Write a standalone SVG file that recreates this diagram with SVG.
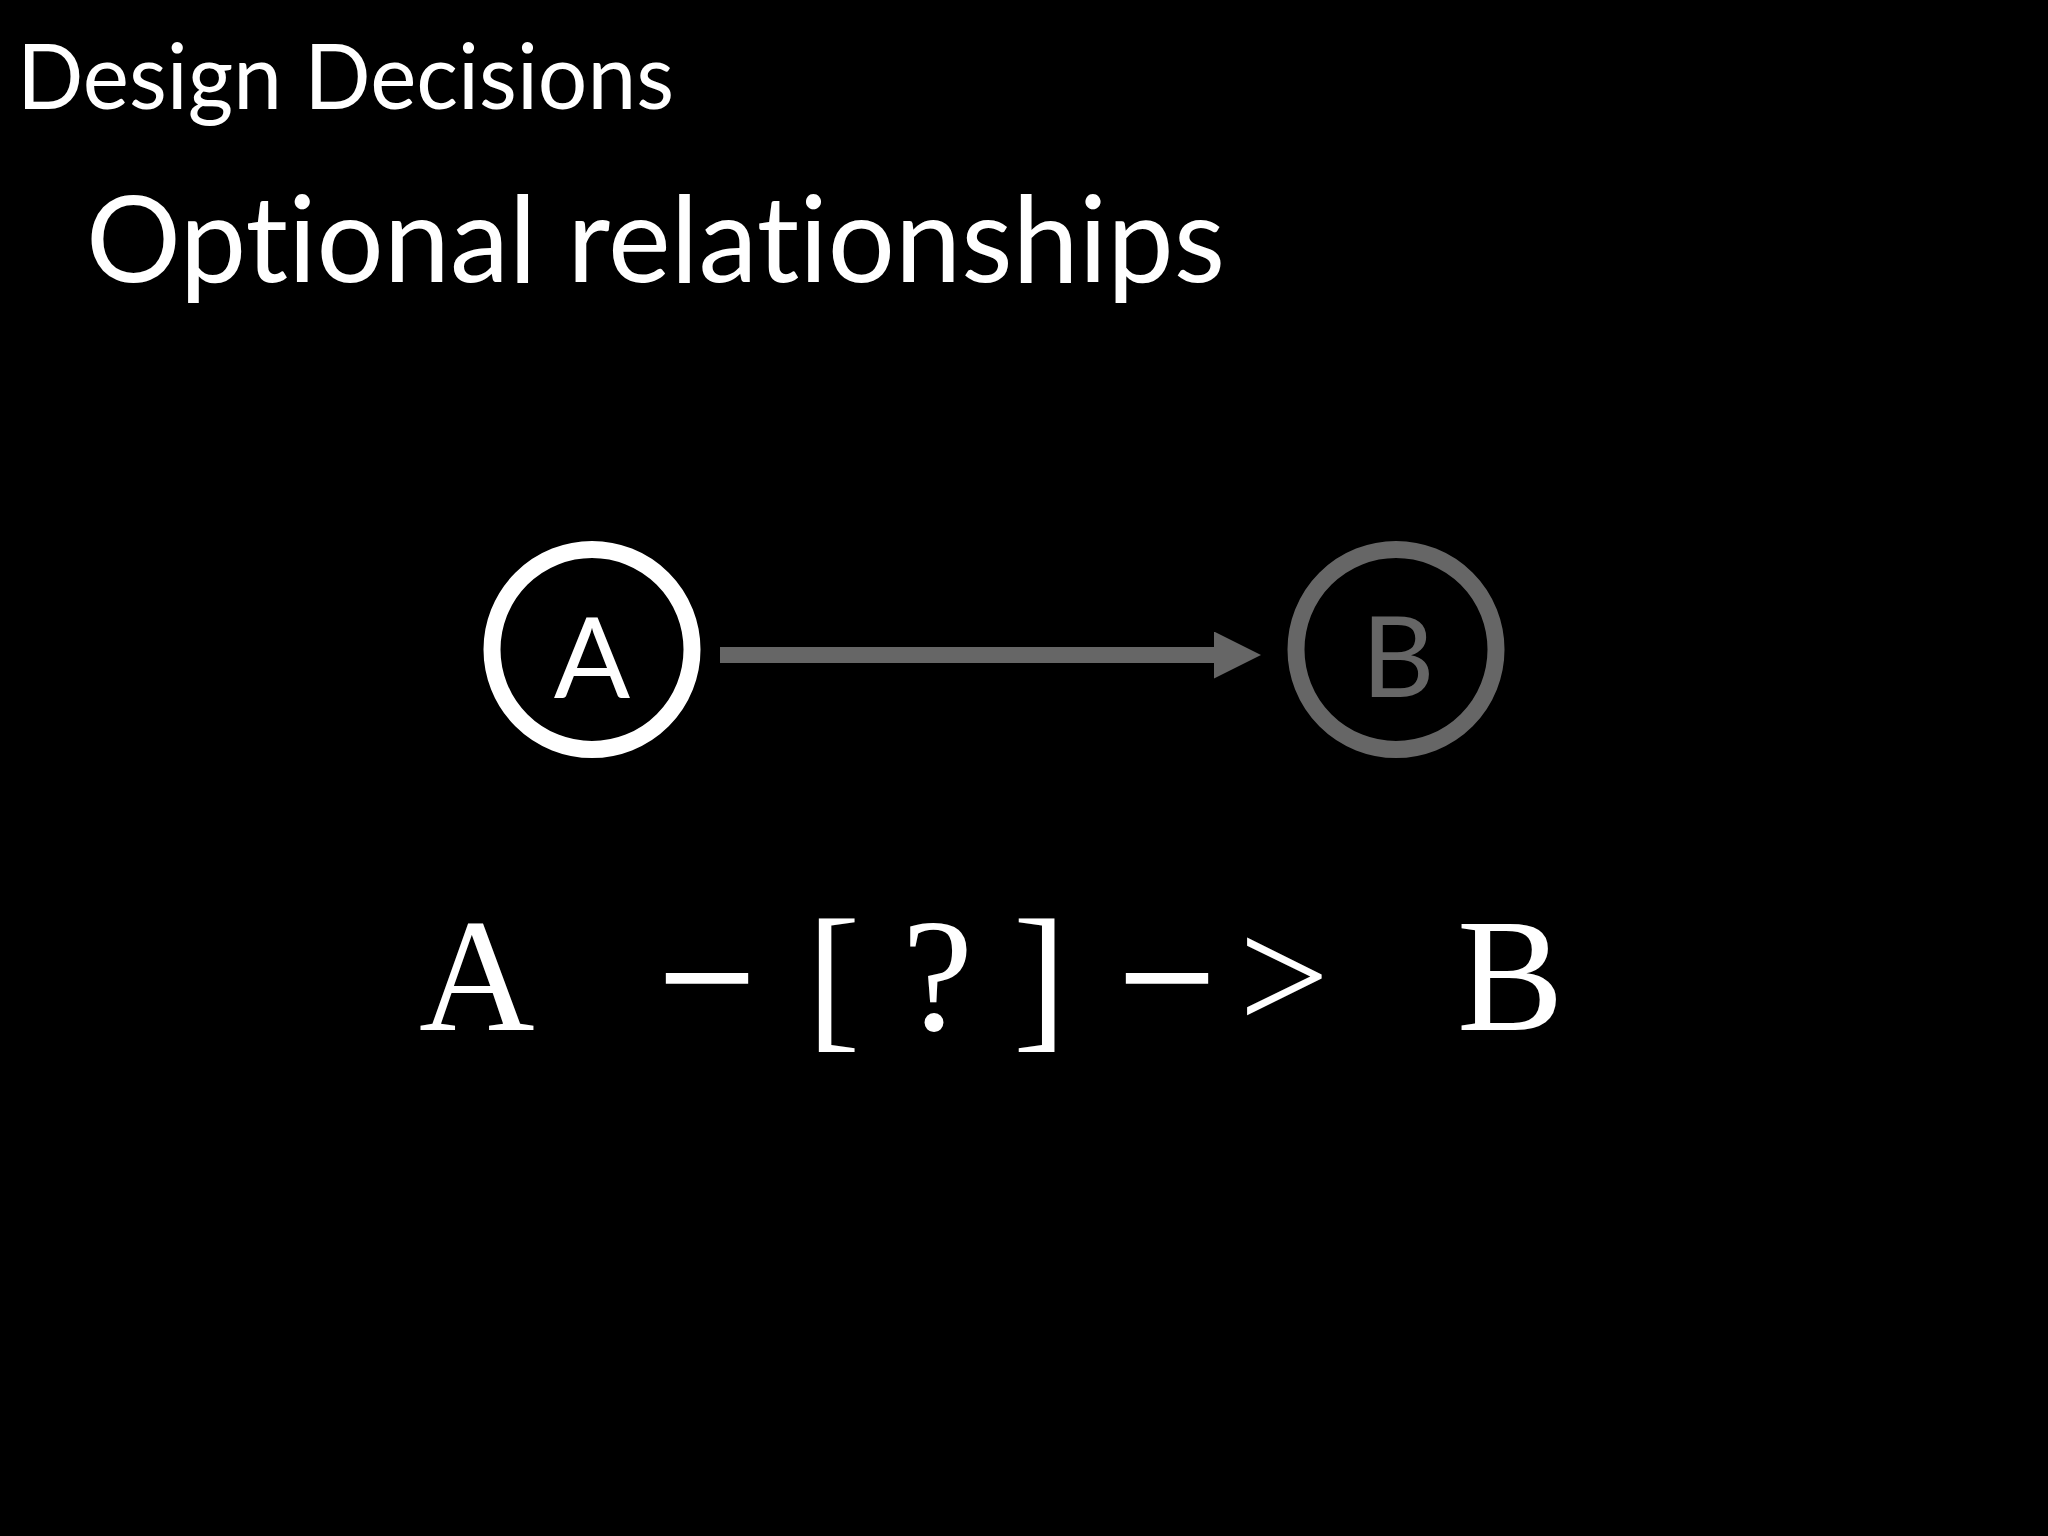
<svg xmlns="http://www.w3.org/2000/svg" width="2048" height="1536" viewBox="0 0 2048 1536">
  <style>
    .title { font-family: Lato, "Open Sans", "Liberation Sans", sans-serif; fill: #fff; font-variant-ligatures: none; }
    .node { fill: #000; stroke-width: 17; }
    .label { font-family: Lato, "Open Sans", "Liberation Sans", sans-serif; font-size: 113px; text-anchor: middle; }
    .code { font-family: "Liberation Serif", serif; font-size: 160px; fill: #fff; }
    .dash { font-family: "Liberation Sans", sans-serif; font-size: 136px; fill: #fff; text-anchor: middle; }
  </style>
  <defs>
    <marker id="head" markerUnits="userSpaceOnUse" markerWidth="48" markerHeight="48" refX="0" refY="23.5" orient="auto" viewBox="0 0 48 48">
      <path d="M0,0 L47,23.5 L0,47 z" fill="#666"/>
    </marker>
  </defs>
  <rect width="2048" height="1536" fill="#000"/>
  <text class="title" x="17" y="109" font-size="92" textLength="657" lengthAdjust="spacingAndGlyphs">Design Decisions</text>
  <text class="title" x="86" y="282" font-size="121" textLength="1139" lengthAdjust="spacingAndGlyphs">Optional relationships</text>
  <g id="connectors">
    <line x1="720" y1="655" x2="1214" y2="655" stroke="#666" stroke-width="16" marker-end="url(#head)"/>
  </g>
  <g id="node-A">
    <circle class="node" cx="592" cy="649.5" r="100" stroke="#fff"/>
    <text class="label" x="592" y="698" fill="#fff">A</text>
  </g>
  <g id="node-B">
    <circle class="node" cx="1396" cy="649.5" r="100" stroke="#666"/>
    <text class="label" x="1398" y="697" fill="#666">B</text>
  </g>
  <g id="code">
    <text class="code" y="1030" xml:space="preserve"><tspan x="419">A </tspan><tspan x="807">[</tspan><tspan x="902">?</tspan><tspan x="1013">]</tspan><tspan x="1239">&gt; </tspan><tspan x="1457">B</tspan></text>
    <text class="dash" transform="translate(707 1014.5) scale(2.48 1)">-</text>
    <text class="dash" transform="translate(1167 1014.5) scale(2.48 1)">-</text>
  </g>
</svg>
